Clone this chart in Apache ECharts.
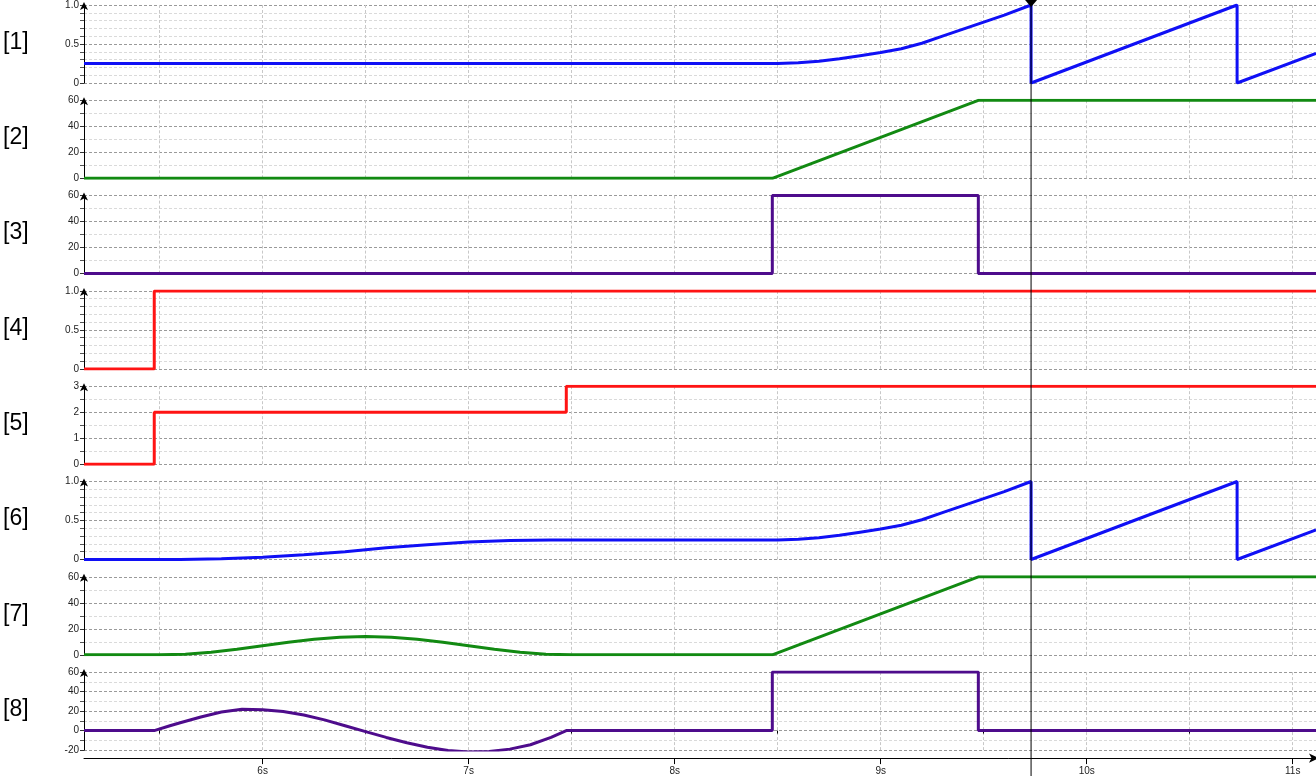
<!DOCTYPE html>
<html>
<head>
<meta charset="utf-8">
<script src="https://cdn.jsdelivr.net/npm/echarts@6/dist/echarts.min.js"></script>
<style>
html,body{margin:0;padding:0;background:#fff;}
#chart{width:1316px;height:782px;}
</style>
</head>
<body>
<div id="chart"></div>
<script>
// ---- data (time in seconds, value) ----
const panelLabels = ['[1]','[2]','[3]','[4]','[5]','[6]','[7]','[8]'];
const xTickLabels = [6, 7, 8, 9, 10, 11];
const xGridValues = [5.5, 6, 6.5, 7, 7.5, 8, 8.5, 9, 9.5, 10, 10.5, 11];
const xHalfTicks = [5.5, 6.5, 7.5, 8.5, 9.5, 10.5];
const xRange = [5.133, 11.113];
const cursorTime = 9.73;

const s1 = [[5.133,0.25],[8.5,0.25],[8.6,0.26],[8.7,0.28],[8.8,0.31],[8.9,0.35],[9.0,0.39],[9.1,0.44],[9.2,0.51],[9.3,0.6],[9.4,0.69],[9.5,0.78],[9.6,0.87],[9.73,1.0],[9.73,0],[10.73,1.0],[10.73,0],[11.113,0.38]];
const s2 = [[5.133,0],[8.474,0],[9.474,60],[11.113,60]];
const s3 = [[5.133,0],[8.474,0],[8.474,60],[9.474,60],[9.474,0],[11.113,0]];
const s4 = [[5.133,0],[5.474,0],[5.474,1],[11.113,1]];
const s5 = [[5.133,0],[5.474,0],[5.474,2],[7.474,2],[7.474,3],[11.113,3]];
const s6 = [[5.133,0],[5.6,0],[5.8,0.01],[6.0,0.03],[6.2,0.06],[6.4,0.1],[6.6,0.15],[6.8,0.19],[7.0,0.225],[7.2,0.245],[7.4,0.25],[8.5,0.25],[8.6,0.26],[8.7,0.28],[8.8,0.31],[8.9,0.35],[9.0,0.39],[9.1,0.44],[9.2,0.51],[9.3,0.6],[9.4,0.69],[9.5,0.78],[9.6,0.87],[9.73,1.0],[9.73,0],[10.73,1.0],[10.73,0],[11.113,0.38]];
const s7 = [[5.133,0],[5.5,0],[5.625,0.5],[5.75,2],[5.875,4.3],[6.0,7],[6.125,9.7],[6.25,12],[6.375,13.5],[6.5,14],[6.625,13.5],[6.75,12],[6.875,9.7],[7.0,7],[7.125,4.3],[7.25,2],[7.375,0.5],[7.5,0],[8.474,0],[9.474,60],[11.113,60]];
const s8 = [[5.133,0],[5.474,0],[5.55,5],[5.6,8],[5.7,14],[5.8,19],[5.9,21.8],[6.0,21.5],[6.1,19.5],[6.2,16],[6.3,11],[6.4,5],[6.5,-1],[6.6,-7],[6.7,-12.5],[6.8,-17],[6.9,-20.5],[7.0,-22],[7.1,-21.5],[7.2,-19],[7.3,-14.5],[7.4,-7],[7.474,0],[8.474,0],[8.474,60],[9.474,60],[9.474,0],[11.113,0]];

const seriesData = [s1,s2,s3,s4,s5,s6,s7,s8];
const yMin = [0,0,0,0,0,0,0,-20];
const yMax = [1,60,60,1,3,1,60,60];
const yStep = [0.5,20,20,0.5,1,0.5,20,20];
const yMinor = [5,2,2,5,2,5,2,2];

// ---- styles ----
const BLUE='#1010f5', GREEN='#128a12', PURPLE='#4e0c8c', RED='#ff1414';
const colors = [BLUE,GREEN,PURPLE,RED,RED,BLUE,GREEN,PURPLE];
const FONT = 'Liberation Sans, Arial, sans-serif';

const GRID_LEFT = 84, GRID_TOP0 = 5, PITCH = 95.3, GRID_H = 78;

const chart = echarts.init(document.getElementById('chart'), null, {renderer:'canvas'});

const grids=[], xAxes=[], yAxes=[], series=[];
for (let i=0;i<8;i++){
  grids.push({left:GRID_LEFT, right:0, top:GRID_TOP0+i*PITCH, height:GRID_H, containLabel:false});
  const last = i===7;
  xAxes.push({
    type:'value', gridIndex:i, min:xRange[0], max:xRange[1],
    position:'bottom', offset: last?8:0,
    axisLine:{show:last, onZero:false, symbol:['none','arrow'], symbolSize:[7,10], symbolOffset:[0,3], lineStyle:{color:'#000',width:1}},
    axisTick:{show:last, customValues:last?xTickLabels:xGridValues, length:6, inside:false, lineStyle:{color:'#000'}},
    axisLabel:{show:last, customValues:xTickLabels, formatter:v=>v+'s', fontSize:10, color:'#222', fontFamily:FONT, margin:8},
    splitLine:{show:!last, lineStyle:{color:'#c8c8c8', type:[3,2], width:1}},
    minorTick:{show:false}, minorSplitLine:{show:false}
  });
  yAxes.push({
    type:'value', gridIndex:i, min:yMin[i], max:yMax[i], interval:yStep[i],
    axisLine:{show:true, onZero:false, symbol:['none','arrow'], symbolSize:[6,8], symbolOffset:[0,3], lineStyle:{color:'#000',width:1}},
    axisTick:{show:true, length:4, lineStyle:{color:'#333'}},
    minorTick:{show:true, splitNumber:yMinor[i], length:4, lineStyle:{color:'#555'}},
    axisLabel:{fontSize:10, color:'#222', fontFamily:FONT, margin:5,
      formatter: v => (yStep[i]<1 ? (v===0?'0':v.toFixed(1)) : String(v))},
    splitLine:{show:true, lineStyle:{color:'#9a9a9a', type:[3,2], width:1}},
    minorSplitLine:{show:true, lineStyle:{color:'#dadada', type:[3,2], width:1}}
  });
  series.push({
    type:'line', xAxisIndex:i, yAxisIndex:i, data:seriesData[i],
    showSymbol:false, symbol:'none', clip:true,
    lineStyle:{color:colors[i], width:3}, itemStyle:{color:colors[i]},
    z:3
  });
}
// half-second ticks on bottom axis and vertical grid for last panel
xAxes.push({
  type:'value', gridIndex:7, min:xRange[0], max:xRange[1], position:'bottom', offset:8,
  axisLine:{show:false}, axisLabel:{show:false},
  axisTick:{show:true, customValues:xHalfTicks, length:3, lineStyle:{color:'#000'}},
  splitLine:{show:false}
});
xAxes.push({
  type:'value', gridIndex:7, min:xRange[0], max:xRange[1], position:'top',
  axisLine:{show:false}, axisLabel:{show:false},
  axisTick:{show:false, customValues:xGridValues},
  splitLine:{show:true, lineStyle:{color:'#c8c8c8', type:[3,2], width:1}}
});

chart.setOption({
  animation:false,
  backgroundColor:'#fff',
  textStyle:{fontFamily:FONT},
  grid:grids, xAxis:xAxes, yAxis:yAxes, series:series
});

// cursor + panel labels
const cx = chart.convertToPixel({xAxisIndex:0}, cursorTime);
const graphics = [];
graphics.push({type:'line', shape:{x1:cx,y1:0,x2:cx,y2:776}, style:{stroke:'#000', lineWidth:1}, z:10});
graphics.push({type:'polygon', shape:{points:[[cx-6,0],[cx+6,0],[cx,7]]}, style:{fill:'#000'}, z:11});
for (let i=0;i<8;i++){
  graphics.push({type:'text', left:3, top:GRID_TOP0+i*PITCH+GRID_H/2-13,
    style:{text:panelLabels[i], fontSize:23, fontFamily:FONT, fill:'#000'}, z:10});
}
chart.setOption({graphic:graphics});
</script>
</body>
</html>
